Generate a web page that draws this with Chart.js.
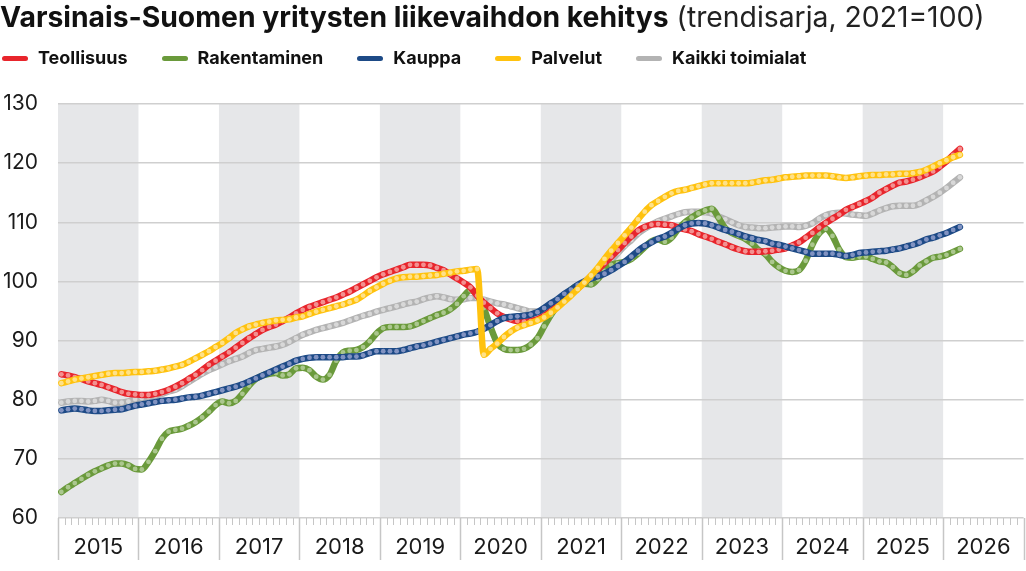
<!DOCTYPE html>
<html lang="fi">
<head>
<meta charset="utf-8">
<title>Varsinais-Suomen yritysten liikevaihdon kehitys</title>
<script src="https://cdn.jsdelivr.net/npm/chart.js@4.4.1/dist/chart.umd.min.js"></script>
<style>
  html, body { margin: 0; padding: 0; background: #fff; }
  body { width: 1026px; height: 571px; position: relative; overflow: hidden; font-family: Inter, "Noto Sans", sans-serif; color: #111; }
  #chart { position: absolute; left: 0; top: 0; }
  #title { position: absolute; left: 0; top: 0; font-size: 28.3px; line-height: 34px; white-space: nowrap; z-index: 2; }
  #title b { font-weight: 700; }
  #title span { font-weight: 400; color: #222; }
  #legend { position: absolute; left: 2px; top: 47px; display: flex; gap: 34px; font-size: 18px; font-weight: 700; line-height: 22px; z-index: 2; }
  .item { display: flex; align-items: center; gap: 10px; }
  .swatch { width: 26px; height: 5px; border-radius: 3px; }
</style>
</head>
<body>
<div id="title"><b>Varsinais-Suomen yritysten liikevaihdon kehitys</b> <span>(trendisarja, 2021=100)</span></div>
<div id="legend"></div>
<canvas id="chart" width="1026" height="571"></canvas>
<script>
// Year tick labels (x axis runs Jan 2015 .. Dec 2026, monthly)
const yearLabels = ["2015", "2016", "2017", "2018", "2019", "2020", "2021", "2022", "2023", "2024", "2025", "2026"];
const yTicks = [60, 70, 80, 90, 100, 110, 120, 130];

// Monthly trend values, Jan 2015 .. Mar 2026
const teollisuus = [
  84.3, 84.1, 83.8, 83.5, 83.1, 82.8, 82.5, 82.1, 81.7, 81.3, 81.0, 80.9,
  80.8, 80.8, 81.0, 81.3, 81.7, 82.2, 82.8, 83.5, 84.2, 85.0, 85.9, 86.6,
  87.3, 88.0, 88.8, 89.6, 90.4, 91.1, 91.8, 92.3, 92.7, 93.3, 93.9, 94.6,
  95.2, 95.7, 96.1, 96.5, 96.9, 97.3, 97.8, 98.3, 98.9, 99.5, 100.1, 100.7,
  101.2, 101.6, 102.0, 102.4, 102.8, 102.8, 102.8, 102.7, 102.3, 101.9, 101.2, 100.5,
  99.8, 99.0, 97.6, 96.4, 95.5, 94.6, 94.0, 93.6, 93.3, 93.2, 93.3, 93.6,
  94.2, 95.0, 95.9, 96.9, 97.9, 98.8, 99.8, 100.9, 102.0, 103.1, 104.2, 105.3,
  106.5, 107.6, 108.6, 109.2, 109.6, 109.7, 109.6, 109.5, 109.1, 108.8, 108.5, 108.0,
  107.6, 107.2, 106.7, 106.3, 105.8, 105.4, 105.1, 105.0, 105.0, 105.1, 105.2, 105.4,
  105.6, 106.1, 106.6, 107.4, 108.2, 109.1, 109.9, 110.6, 111.3, 112.1, 112.6, 113.1,
  113.6, 114.2, 115.0, 115.6, 116.2, 116.7, 116.9, 117.2, 117.6, 118.1, 118.6, 119.4,
  120.3, 121.4, 122.4
];
const rakentaminen = [
  64.4, 65.2, 65.9, 66.6, 67.3, 67.9, 68.4, 68.9, 69.2, 69.2, 68.9, 68.3,
  68.2, 69.5, 71.3, 73.4, 74.6, 74.9, 75.1, 75.6, 76.2, 77.0, 78.0, 79.1,
  79.7, 79.4, 79.8, 81.0, 82.4, 83.5, 84.1, 84.4, 84.5, 84.1, 84.3, 85.3,
  85.4, 85.0, 83.9, 83.4, 84.2, 86.6, 88.0, 88.3, 88.4, 88.9, 89.9, 91.2,
  92.1, 92.3, 92.3, 92.3, 92.4, 92.8, 93.3, 93.8, 94.3, 94.7, 95.3, 96.2,
  97.5, 98.5, 97.8, 95.5, 92.3, 89.6, 88.6, 88.4, 88.4, 88.6, 89.3, 90.4,
  92.4, 94.3, 96.0, 97.5, 98.6, 99.3, 99.6, 99.5, 100.4, 101.8, 102.8, 103.1,
  103.3, 103.8, 104.7, 105.8, 106.8, 107.1, 106.7, 107.4, 108.9, 110.0, 110.8, 111.5,
  112.0, 112.3, 110.8, 109.0, 108.2, 107.7, 107.2, 106.4, 105.3, 104.6, 103.3, 102.4,
  101.8, 101.6, 101.9, 103.5, 106.2, 108.1, 108.9, 107.7, 105.4, 104.1, 104.0, 104.2,
  104.2, 103.8, 103.4, 103.2, 102.4, 101.4, 101.1, 101.7, 102.7, 103.4, 104.0, 104.2,
  104.5, 105.0, 105.5
];
const kauppa = [
  78.2, 78.4, 78.5, 78.4, 78.2, 78.1, 78.1, 78.2, 78.3, 78.4, 78.7, 79.0,
  79.2, 79.4, 79.6, 79.8, 79.9, 80.0, 80.2, 80.4, 80.5, 80.7, 81.0, 81.3,
  81.6, 81.9, 82.2, 82.6, 83.1, 83.6, 84.1, 84.6, 85.1, 85.6, 86.1, 86.6,
  86.9, 87.1, 87.2, 87.2, 87.2, 87.2, 87.2, 87.3, 87.3, 87.5, 87.9, 88.2,
  88.2, 88.2, 88.2, 88.4, 88.7, 89.0, 89.2, 89.5, 89.8, 90.1, 90.4, 90.7,
  91.0, 91.2, 91.5, 92.0, 92.6, 93.3, 93.8, 94.0, 94.1, 94.2, 94.4, 94.8,
  95.5, 96.3, 97.0, 97.9, 98.6, 99.4, 100.0, 100.5, 100.9, 101.3, 101.9, 102.6,
  103.3, 104.2, 105.2, 106.0, 106.6, 107.2, 107.6, 108.2, 108.9, 109.5, 109.8, 109.9,
  109.8, 109.5, 109.1, 108.7, 108.4, 108.0, 107.6, 107.3, 107.0, 106.8, 106.4, 106.2,
  105.9, 105.6, 105.3, 105.0, 104.7, 104.7, 104.7, 104.7, 104.5, 104.3, 104.5, 104.8,
  104.9, 105.0, 105.1, 105.2, 105.4, 105.6, 105.9, 106.2, 106.6, 107.1, 107.4, 107.8,
  108.2, 108.7, 109.2
];
const palvelut = [
  82.8, 83.1, 83.4, 83.6, 83.8, 84.0, 84.2, 84.4, 84.5, 84.5, 84.6, 84.7,
  84.7, 84.8, 84.9, 85.1, 85.3, 85.6, 85.9, 86.4, 87.0, 87.6, 88.2, 88.9,
  89.6, 90.4, 91.3, 91.9, 92.4, 92.7, 93.0, 93.2, 93.4, 93.5, 93.6, 93.9,
  94.1, 94.5, 94.9, 95.2, 95.5, 95.8, 96.1, 96.5, 96.9, 97.6, 98.4, 99.0,
  99.6, 100.1, 100.5, 100.7, 100.8, 100.8, 100.9, 101.0, 101.1, 101.3, 101.5, 101.7,
  101.8, 102.0, 102.1, 87.6, 88.6, 89.5, 90.6, 91.5, 92.2, 92.6, 93.0, 93.4,
  93.9, 94.7, 95.6, 96.6, 97.6, 98.7, 99.8, 101.0, 102.3, 103.8, 105.2, 106.5,
  107.8, 109.1, 110.5, 111.8, 112.9, 113.6, 114.3, 114.9, 115.3, 115.5, 115.8, 116.1,
  116.4, 116.6, 116.6, 116.6, 116.6, 116.6, 116.6, 116.7, 116.9, 117.1, 117.2, 117.4,
  117.6, 117.7, 117.8, 117.9, 117.9, 117.9, 117.9, 117.8, 117.6, 117.5, 117.6, 117.8,
  117.9, 118.0, 118.0, 118.1, 118.1, 118.2, 118.2, 118.3, 118.5, 118.9, 119.4, 120.0,
  120.5, 121.0, 121.4
];
const kaikki = [
  79.5, 79.7, 79.8, 79.8, 79.7, 79.8, 80.0, 79.8, 79.5, 79.5, 79.7, 80.1,
  80.3, 80.5, 80.7, 81.0, 81.4, 81.7, 82.3, 83.0, 83.7, 84.4, 85.0, 85.5,
  86.0, 86.5, 86.9, 87.3, 87.9, 88.4, 88.6, 88.8, 89.0, 89.3, 89.8, 90.4,
  91.0, 91.4, 91.8, 92.1, 92.4, 92.7, 93.0, 93.4, 93.8, 94.2, 94.5, 94.9,
  95.2, 95.5, 95.8, 96.1, 96.4, 96.6, 97.0, 97.3, 97.5, 97.3, 97.0, 96.9,
  97.0, 97.2, 97.2, 96.9, 96.6, 96.3, 96.1, 95.8, 95.5, 95.2, 94.9, 94.9,
  95.2, 95.8, 96.6, 97.5, 98.3, 99.0, 99.9, 100.9, 101.9, 102.8, 103.6, 104.8,
  106.0, 107.0, 108.1, 108.9, 109.6, 110.2, 110.6, 111.0, 111.4, 111.7, 111.8, 111.8,
  111.7, 111.5, 111.0, 110.5, 110.0, 109.5, 109.2, 109.1, 109.0, 109.0, 109.1, 109.2,
  109.3, 109.3, 109.2, 109.4, 109.8, 110.6, 111.2, 111.5, 111.6, 111.5, 111.3, 111.2,
  111.1, 111.5, 112.0, 112.4, 112.7, 112.8, 112.8, 112.8, 113.1, 113.7, 114.3, 115.0,
  115.8, 116.7, 117.6
];

const seriesNames = ["Teollisuus", "Rakentaminen", "Kauppa", "Palvelut", "Kaikki toimialat"];

document.addEventListener("DOMContentLoaded", function () {
  const colors = {
    red: "#e8252c",
    redDot: "#f39090",
    green: "#6a9a3b",
    greenDot: "#abc78e",
    blue: "#1d4a86",
    blueDot: "#8193c2",
    yellow: "#ffc20e",
    yellowDot: "#ffe187",
    gray: "#b3b3b3",
    grayDot: "#d8d8d8",
    band: "#e6e7e9",
    grid: "#cfcfcf",
    tick: "#c6c6c6",
    text: "#1a1a1a",
  };

  const fontFamily = "Inter, 'Noto Sans', sans-serif";

  // month index -> centre of that month on the x axis
  function toPoints(values) {
    return values.map((v, i) => ({ x: i + 0.5, y: v }));
  }

  function lineDataset(label, values, color, dotColor, order) {
    return {
      label: label,
      data: toPoints(values),
      borderColor: color,
      backgroundColor: color,
      borderWidth: 6.5,
      borderCapStyle: "round",
      borderJoinStyle: "round",
      cubicInterpolationMode: "monotone",
      pointRadius: 2.4,
      pointBorderWidth: 0,
      pointBackgroundColor: dotColor,
      pointHoverRadius: 0,
      order: order,
    };
  }

  const datasets = [
    lineDataset(seriesNames[0], teollisuus, colors.red, colors.redDot, 3),
    lineDataset(seriesNames[1], rakentaminen, colors.green, colors.greenDot, 4),
    lineDataset(seriesNames[2], kauppa, colors.blue, colors.blueDot, 2),
    lineDataset(seriesNames[3], palvelut, colors.yellow, colors.yellowDot, 1),
    lineDataset(seriesNames[4], kaikki, colors.gray, colors.grayDot, 5),
  ];

  // html legend
  const legend = document.getElementById("legend");
  datasets.forEach((ds) => {
    const item = document.createElement("div");
    item.className = "item";
    item.innerHTML = '<span class="swatch" style="background:' + ds.borderColor + '"></span><span>' + ds.label + "</span>";
    legend.appendChild(item);
  });

  const monthsTotal = yearLabels.length * 12;

  // alternating year bands behind the grid
  const yearBands = {
    id: "yearBands",
    beforeDraw(chart) {
      const { ctx, chartArea, scales } = chart;
      ctx.save();
      ctx.fillStyle = colors.band;
      for (let k = 0; k < yearLabels.length; k += 2) {
        const x0 = scales.x.getPixelForValue(k * 12);
        const x1 = scales.x.getPixelForValue(k * 12 + 12);
        ctx.fillRect(x0, chartArea.top, x1 - x0, chartArea.bottom - chartArea.top);
      }
      ctx.restore();
    },
  };

  // month ticks and year separators under the plot
  const monthTicks = {
    id: "monthTicks",
    afterDraw(chart) {
      const { ctx, chartArea, scales } = chart;
      ctx.save();
      ctx.strokeStyle = colors.tick;
      for (let m = 0; m <= monthsTotal; m++) {
        const x = Math.round(scales.x.getPixelForValue(m)) + 0.5;
        const isYear = m % 12 === 0;
        ctx.lineWidth = isYear ? 1.5 : 1;
        ctx.beginPath();
        ctx.moveTo(x, chartArea.bottom);
        ctx.lineTo(x, chartArea.bottom + (isYear ? 42 : 7));
        ctx.stroke();
      }
      ctx.restore();
    },
  };

  new Chart(document.getElementById("chart"), {
    type: "line",
    data: { datasets: datasets },
    options: {
      responsive: false,
      animation: false,
      events: [],
      layout: { padding: { top: 104, right: 1, left: 0, bottom: 0 } },
      scales: {
        x: {
          type: "linear",
          min: 0,
          max: monthsTotal,
          afterFit: (scale) => {
            scale.height = 53;
            scale.paddingLeft = 0;
            scale.paddingRight = 0;
          },
          grid: { display: false },
          border: { display: false },
          ticks: {
            stepSize: 6,
            autoSkip: false,
            maxRotation: 0,
            padding: 8,
            color: colors.text,
            font: { family: fontFamily, size: 22 },
            callback: (value) => (value % 12 === 6 ? yearLabels[(value - 6) / 12] : ""),
          },
        },
        y: {
          min: yTicks[0],
          max: yTicks[yTicks.length - 1],
          afterFit: (scale) => {
            scale.width = 58;
            scale.paddingTop = 0;
            scale.paddingBottom = 0;
          },
          afterBuildTicks: (scale) => { scale.ticks = yTicks.map((v) => ({ value: v })); },
          grid: { color: colors.grid, lineWidth: 1.5, drawTicks: false },
          border: { display: false },
          ticks: {
            padding: 20,
            color: colors.text,
            font: { family: fontFamily, size: 21 },
          },
        },
      },
      plugins: {
        legend: { display: false },
        tooltip: { enabled: false },
      },
    },
    plugins: [yearBands, monthTicks],
  });
});
</script>
</body>
</html>
